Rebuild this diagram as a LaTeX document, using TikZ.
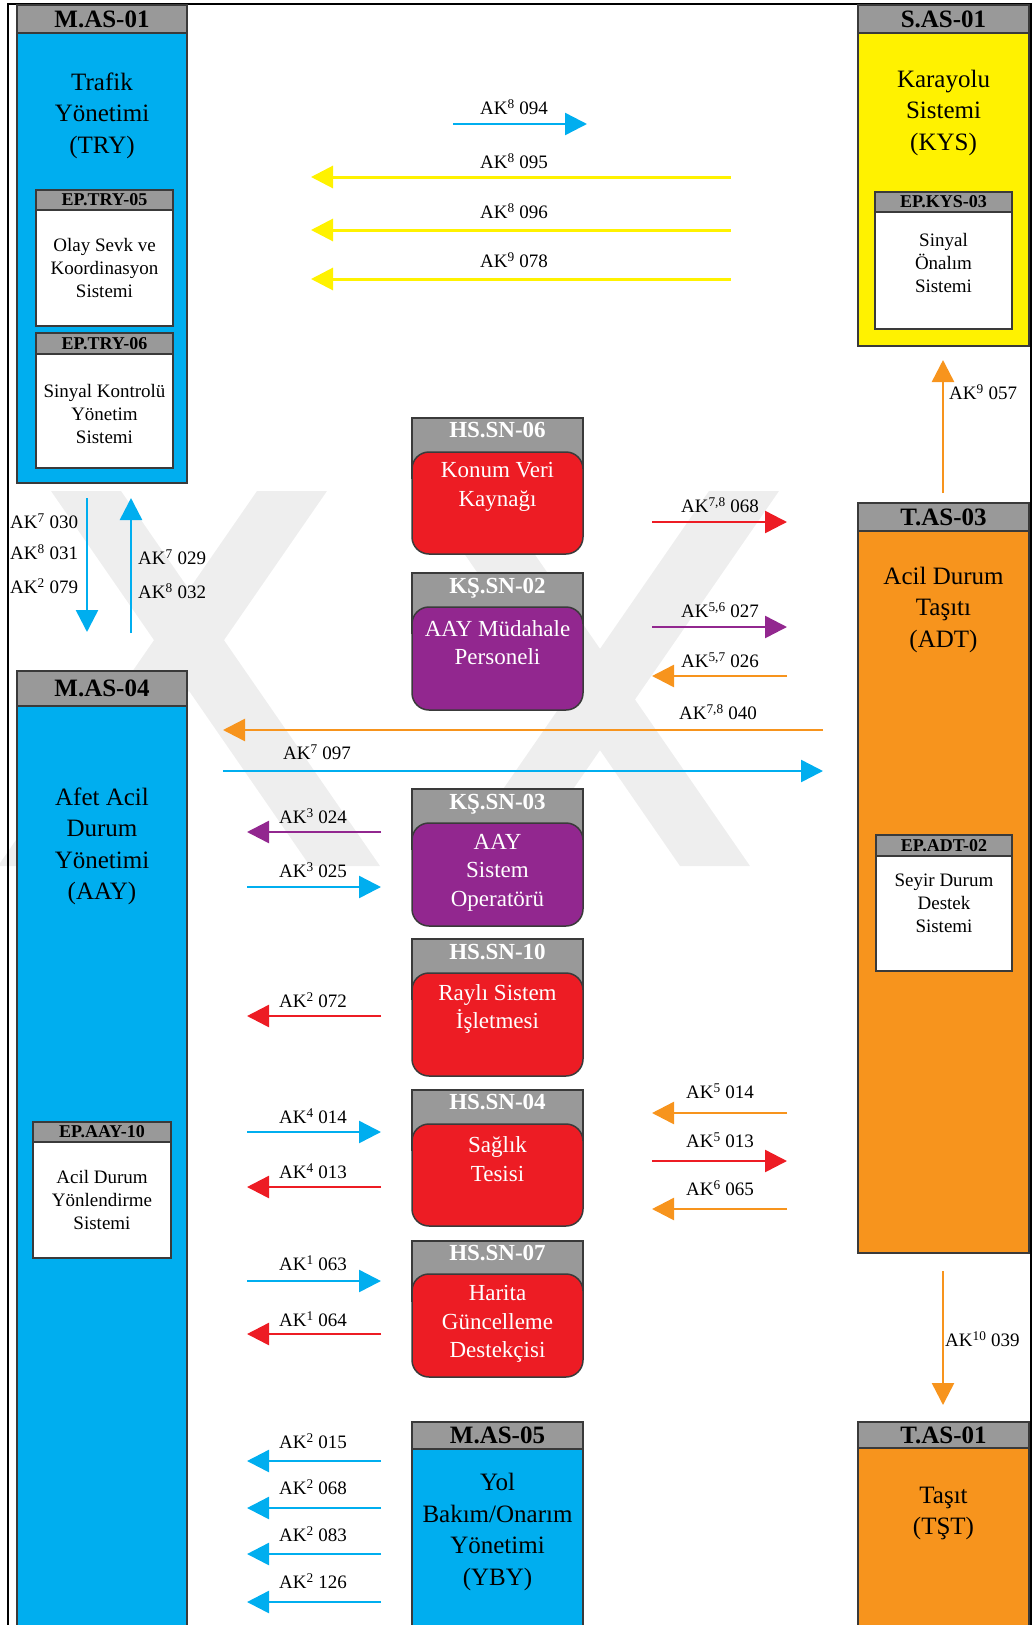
\documentclass[tikz,border=0pt]{standalone}
\usepackage{fontspec}
\setmainfont{Liberation Serif}
\usetikzlibrary{arrows.meta}
\definecolor{cblue}{HTML}{00AEEF}
\definecolor{cyellow}{HTML}{FFF200}
\definecolor{corange}{HTML}{F7941D}
\definecolor{cred}{HTML}{ED1C24}
\definecolor{cpurple}{HTML}{92278F}
\definecolor{chead}{HTML}{999999}
\definecolor{cline}{HTML}{3A3A3A}
\definecolor{cwm}{HTML}{EEEEEE}
\newcommand{\fsz}[2]{\fontsize{#1pt}{#2pt}\selectfont}
\newcommand{\ak}[2]{AK\textsuperscript{#1} #2}
\begin{document}
\begin{tikzpicture}[x=1pt,y=-1pt,
  sysbody/.style={draw=cline, line width=1.5pt, anchor=north west, inner sep=0pt, outer sep=0pt},
  syshead/.style={draw=cline, line width=1.5pt, fill=chead, anchor=north west, inner sep=0pt, outer sep=0pt},
  bighead/.style={syshead, font=\fsz{25}{30}\bfseries},
  smallhead/.style={syshead, font=\fsz{18}{20}\bfseries},
  bigtext/.style={align=center, font=\fsz{25}{31.5}, inner sep=0pt},
  smalltext/.style={align=center, font=\fsz{19}{23}, inner sep=0pt},
  midtext/.style={align=center, font=\fsz{23}{28.5}, text=white, inner sep=0pt},
  midhead/.style={anchor=base, font=\fsz{23}{25}\bfseries, text=white, inner sep=0pt},
  rbody/.style={sysbody, rounded corners=17pt},
  lbl/.style={anchor=base, font=\fsz{19}{22}, inner sep=0pt},
  lblw/.style={anchor=base west, font=\fsz{19}{22}, inner sep=0pt},
  arr/.style={line width=2.5pt, -{Triangle[length=22pt,width=22pt]}},
  wmark/.style={fill=cwm},
]
\useasboundingbox (0,0) rectangle (1032,1625);
\clip (0,0) rectangle (1032,1625);

% watermark (faint logo in the background)
\fill[wmark] (51,491) -- (121,491) -- (380,866) -- (310,866) -- cycle;
\fill[wmark] (257,491) -- (327,491) -- (68,866) -- (-2,866) -- cycle;
\fill[wmark] (421,491) -- (491,491) -- (750,866) -- (680,866) -- cycle;
\fill[wmark] (709,491) -- (779,491) -- (520,866) -- (450,866) -- cycle;

% frame
\draw[line width=2pt] (8,3.5) rectangle (1030.5,1640);

% ---- M.AS-01
\node[sysbody, fill=cblue, minimum width=170pt, minimum height=478pt] (mas01) at (17,5) {};
\node[bighead, minimum width=170pt, minimum height=28pt] (mas01h) at (17,5) {M.AS-01};
\node[bigtext] (mas01t) at (102,115.5) {Trafik\\Yönetimi\\(TRY)};
\node[sysbody, fill=white, minimum width=137pt, minimum height=136pt] (try05) at (36,190) {};
\node[smallhead, minimum width=137pt, minimum height=20pt] (try05h) at (36,190) {EP.TRY-05};
\node[smalltext] (try05t) at (104.5,267.5) {Olay Sevk ve\\Koordinasyon\\Sistemi};
\node[sysbody, fill=white, minimum width=137pt, minimum height=135pt] (try06) at (36,333) {};
\node[smallhead, minimum width=137pt, minimum height=21pt] (try06h) at (36,333) {EP.TRY-06};
\node[smalltext] (try06t) at (104.5,414) {Sinyal Kontrolü\\Yönetim\\Sistemi};

% ---- M.AS-04
\node[sysbody, fill=cblue, minimum width=170pt, minimum height=969pt] (mas04) at (17,671) {};
\node[bighead, minimum width=170pt, minimum height=35pt] (mas04h) at (17,671) {M.AS-04};
\node[bigtext] (mas04t) at (102,846.5) {Afet Acil\\Durum\\Yönetimi\\(AAY)};
\node[sysbody, fill=white, minimum width=138pt, minimum height=136pt] (aay10) at (33,1122) {};
\node[smallhead, minimum width=138pt, minimum height=20pt] (aay10h) at (33,1122) {EP.AAY-10};
\node[smalltext] (aay10t) at (102,1200) {Acil Durum\\Yönlendirme\\Sistemi};

% ---- S.AS-01
\node[sysbody, fill=cyellow, minimum width=171pt, minimum height=341pt] (sas01) at (858,5) {};
\node[bighead, minimum width=171pt, minimum height=28pt] (sas01h) at (858,5) {S.AS-01};
\node[bigtext] (sas01t) at (943.5,112.5) {Karayolu\\Sistemi\\(KYS)};
\node[sysbody, fill=white, minimum width=137pt, minimum height=137pt] (kys03) at (875,192) {};
\node[smallhead, minimum width=137pt, minimum height=20pt] (kys03h) at (875,192) {EP.KYS-03};
\node[smalltext] (kys03t) at (943.5,263) {Sinyal\\Önalım\\Sistemi};

% ---- T.AS-03
\node[sysbody, fill=corange, minimum width=171pt, minimum height=750pt] (tas03) at (858,503) {};
\node[bighead, minimum width=171pt, minimum height=28pt] (tas03h) at (858,503) {T.AS-03};
\node[bigtext] (tas03t) at (943.5,609.5) {Acil Durum\\Taşıtı\\(ADT)};
\node[sysbody, fill=white, minimum width=136pt, minimum height=136pt] (adt02) at (876,835) {};
\node[smallhead, minimum width=136pt, minimum height=21pt] (adt02h) at (876,835) {EP.ADT-02};
\node[smalltext] (adt02t) at (944,903) {Seyir Durum\\Destek\\Sistemi};

% ---- T.AS-01
\node[sysbody, fill=corange, minimum width=171pt, minimum height=218pt] (tas01) at (858,1422) {};
\node[bighead, minimum width=171pt, minimum height=26pt] (tas01h) at (858,1422) {T.AS-01};
\node[bigtext] (tas01t) at (943.5,1513.5) {Taşıt\\(TŞT)};

% ---- M.AS-05
\node[sysbody, fill=cblue, minimum width=171pt, minimum height=218pt] (mas05) at (412,1422) {};
\node[bighead, minimum width=171pt, minimum height=27pt] (mas05h) at (412,1422) {M.AS-05};
\node[bigtext] (mas05t) at (497.5,1532) {Yol\\Bakım/Onarım\\Yönetimi\\(YBY)};

% ---- middle rounded boxes
\node[syshead, minimum width=171pt, minimum height=60pt] (sn06h) at (412,418) {};
\node[rbody, fill=cred, minimum width=171pt, minimum height=102pt] (sn06) at (412,452) {};
\node[midhead] (sn06l) at (497.5,437.6) {HS.SN-06};
\node[midtext] (sn06t) at (497.5,487) {Konum Veri\\Kaynağı};

\node[syshead, minimum width=171pt, minimum height=60pt] (ks02h) at (412,573) {};
\node[rbody, fill=cpurple, minimum width=171pt, minimum height=103pt] (ks02) at (412,607) {};
\node[midhead] (ks02l) at (497.5,593.6) {KŞ.SN-02};
\node[midtext] (ks02t) at (497.5,642.5) {AAY Müdahale\\Personeli};

\node[syshead, minimum width=171pt, minimum height=60pt] (ks03h) at (412,789) {};
\node[rbody, fill=cpurple, minimum width=171pt, minimum height=103pt] (ks03) at (412,823) {};
\node[midhead] (ks03l) at (497.5,809.6) {KŞ.SN-03};
\node[midtext] (ks03t) at (497.5,872.7) {AAY\\Sistem\\Operatörü};

\node[syshead, minimum width=171pt, minimum height=60pt] (sn10h) at (412,939) {};
\node[rbody, fill=cred, minimum width=171pt, minimum height=103pt] (sn10) at (412,973) {};
\node[midhead] (sn10l) at (497.5,959.6) {HS.SN-10};
\node[midtext] (sn10t) at (497.5,1009) {Raylı Sistem\\İşletmesi};

\node[syshead, minimum width=171pt, minimum height=60pt] (sn04h) at (412,1090) {};
\node[rbody, fill=cred, minimum width=171pt, minimum height=102pt] (sn04) at (412,1124) {};
\node[midhead] (sn04l) at (497.5,1109.6) {HS.SN-04};
\node[midtext] (sn04t) at (497.5,1159) {Sağlık\\Tesisi};

\node[syshead, minimum width=171pt, minimum height=60pt] (sn07h) at (412,1241) {};
\node[rbody, fill=cred, minimum width=171pt, minimum height=103pt] (sn07) at (412,1274) {};
\node[midhead] (sn07l) at (497.5,1260.6) {HS.SN-07};
\node[midtext] (sn07t) at (497.5,1324) {Harita\\Güncelleme\\Destekçisi};

% ---- vertical arrows
\coordinate (v1a) at (87,498);  \coordinate (v1b) at (87,632);
\coordinate (v2a) at (131,633); \coordinate (v2b) at (131,498);
\coordinate (v3a) at (943,493); \coordinate (v3b) at (943,360);
\coordinate (v4a) at (943,1271); \coordinate (v4b) at (943,1405);
\draw[arr, cblue] (v1a) -- (v1b);
\draw[arr, cblue] (v2a) -- (v2b);
\draw[arr, corange] (v3a) -- (v3b);
\draw[arr, corange] (v4a) -- (v4b);
\node[lblw] (l030) at (10,528.3) {\ak{7}{030}};
\node[lblw] (l031) at (10,559.3) {\ak{8}{031}};
\node[lblw] (l079) at (10,593.3) {\ak{2}{079}};
\node[lblw] (l029) at (138,564.3) {\ak{7}{029}};
\node[lblw] (l032) at (138,598.3) {\ak{8}{032}};
\node[lblw] (l057) at (949,399.3) {\ak{9}{057}};
\node[lblw] (l039) at (945,1346.3) {\ak{10}{039}};

% ---- top horizontal arrows
\coordinate (h094a) at (453,124); \coordinate (h094b) at (587,124);
\draw[arr, cblue] (h094a) -- (h094b);
\node[lbl] (l094) at (514,114.3) {\ak{8}{094}};
\coordinate (h095a) at (731,177); \coordinate (h095b) at (311,177);
\draw[arr, cyellow, line width=3pt] (h095a) -- (h095b);
\node[lbl] (l095) at (514,168.3) {\ak{8}{095}};
\coordinate (h096a) at (731,230); \coordinate (h096b) at (311,230);
\draw[arr, cyellow, line width=3pt] (h096a) -- (h096b);
\node[lbl] (l096) at (514,218.3) {\ak{8}{096}};
\coordinate (h078a) at (731,279); \coordinate (h078b) at (311,279);
\draw[arr, cyellow, line width=3pt] (h078a) -- (h078b);
\node[lbl] (l078) at (514,267.3) {\ak{9}{078}};

% ---- right middle arrows
\coordinate (h068a) at (652,522); \coordinate (h068b) at (787,522);
\draw[arr, cred] (h068a) -- (h068b);
\node[lbl] (l068) at (720,512.3) {\ak{7,8}{068}};
\coordinate (h027a) at (652,627); \coordinate (h027b) at (787,627);
\draw[arr, cpurple] (h027a) -- (h027b);
\node[lbl] (l027) at (720,617.3) {\ak{5,6}{027}};
\coordinate (h026a) at (787,676); \coordinate (h026b) at (652,676);
\draw[arr, corange] (h026a) -- (h026b);
\node[lbl] (l026) at (720,667.3) {\ak{5,7}{026}};
\coordinate (h040a) at (823,730); \coordinate (h040b) at (223,730);
\draw[arr, corange] (h040a) -- (h040b);
\node[lbl] (l040) at (718,719.3) {\ak{7,8}{040}};
\coordinate (h097a) at (223,771); \coordinate (h097b) at (823,771);
\draw[arr, cblue] (h097a) -- (h097b);
\node[lbl] (l097) at (317,759.3) {\ak{7}{097}};

\coordinate (h514a) at (787,1113); \coordinate (h514b) at (652,1113);
\draw[arr, corange] (h514a) -- (h514b);
\node[lbl] (l514) at (720,1098.3) {\ak{5}{014}};
\coordinate (h513a) at (652,1161); \coordinate (h513b) at (787,1161);
\draw[arr, cred] (h513a) -- (h513b);
\node[lbl] (l513) at (720,1147.3) {\ak{5}{013}};
\coordinate (h665a) at (787,1209); \coordinate (h665b) at (652,1209);
\draw[arr, corange] (h665a) -- (h665b);
\node[lbl] (l665) at (720,1195.3) {\ak{6}{065}};

% ---- left middle arrows
\coordinate (h024a) at (381,832); \coordinate (h024b) at (247,832);
\draw[arr, cpurple] (h024a) -- (h024b);
\node[lbl] (l024) at (313,823.3) {\ak{3}{024}};
\coordinate (h025a) at (247,887); \coordinate (h025b) at (381,887);
\draw[arr, cblue] (h025a) -- (h025b);
\node[lbl] (l025) at (313,877.3) {\ak{3}{025}};
\coordinate (h072a) at (381,1016); \coordinate (h072b) at (247,1016);
\draw[arr, cred] (h072a) -- (h072b);
\node[lbl] (l072) at (313,1007.3) {\ak{2}{072}};
\coordinate (h414a) at (247,1132); \coordinate (h414b) at (381,1132);
\draw[arr, cblue] (h414a) -- (h414b);
\node[lbl] (l414) at (313,1123.3) {\ak{4}{014}};
\coordinate (h413a) at (381,1187); \coordinate (h413b) at (247,1187);
\draw[arr, cred] (h413a) -- (h413b);
\node[lbl] (l413) at (313,1178.3) {\ak{4}{013}};
\coordinate (h063a) at (247,1281); \coordinate (h063b) at (381,1281);
\draw[arr, cblue] (h063a) -- (h063b);
\node[lbl] (l063) at (313,1270.3) {\ak{1}{063}};
\coordinate (h064a) at (381,1334); \coordinate (h064b) at (247,1334);
\draw[arr, cred] (h064a) -- (h064b);
\node[lbl] (l064) at (313,1326.3) {\ak{1}{064}};
\coordinate (h015a) at (381,1461); \coordinate (h015b) at (247,1461);
\draw[arr, cblue] (h015a) -- (h015b);
\node[lbl] (l015) at (313,1448.3) {\ak{2}{015}};
\coordinate (h268a) at (381,1508); \coordinate (h268b) at (247,1508);
\draw[arr, cblue] (h268a) -- (h268b);
\node[lbl] (l268) at (313,1494.3) {\ak{2}{068}};
\coordinate (h083a) at (381,1554); \coordinate (h083b) at (247,1554);
\draw[arr, cblue] (h083a) -- (h083b);
\node[lbl] (l083) at (313,1541.3) {\ak{2}{083}};
\coordinate (h126a) at (381,1602); \coordinate (h126b) at (247,1602);
\draw[arr, cblue] (h126a) -- (h126b);
\node[lbl] (l126) at (313,1588.3) {\ak{2}{126}};
\end{tikzpicture}
\end{document}
